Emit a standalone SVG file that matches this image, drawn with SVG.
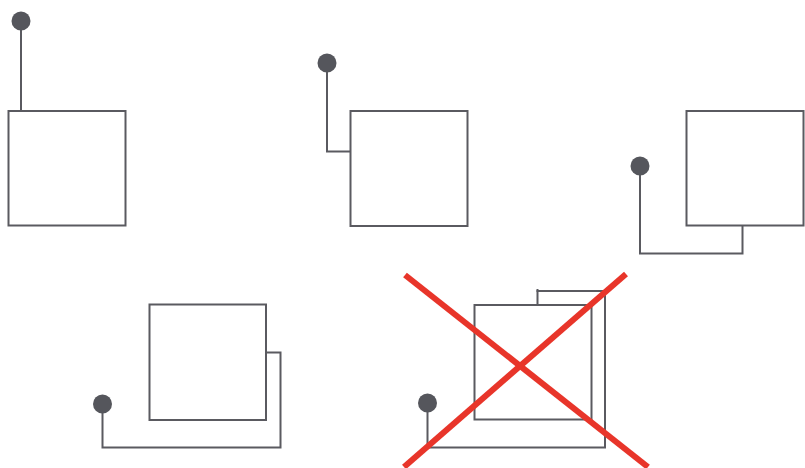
<svg xmlns="http://www.w3.org/2000/svg" width="805" height="468" viewBox="0 0 805 468">
<style>
.box{fill:#fff;stroke:#5a5a60;stroke-width:2}
.wire{fill:none;stroke:#5a5a60;stroke-width:2}
.dot{fill:#55565c}
.cross{stroke:#e8352a;stroke-width:6;stroke-linecap:butt}
</style>
<rect width="805" height="468" fill="#fff"/>
<g id="connectors">
<polyline class="wire" points="21,21 21,111"/>
<polyline class="wire" points="327,63 327,151.5 350,151.5"/>
<polyline class="wire" points="640,166 640,253.5 742.5,253.5 742.5,225"/>
<polyline class="wire" points="266,352.5 280.5,352.5 280.5,447.5 102.5,447.5 102.5,404"/>
<polyline class="wire" points="427.5,403 427.5,447.5 605,447.5 605,291 537.5,291 537.5,305"/>
<line class="wire" x1="537.5" y1="289" x2="537.5" y2="292"/>
</g>
<g id="node1">
<rect class="box" x="8.5" y="111" width="117" height="114.5"/>
<circle class="dot" cx="21" cy="21" r="9.5"/>
</g>
<g id="node2">
<rect class="box" x="350.5" y="111" width="117" height="115"/>
<circle class="dot" cx="327" cy="63" r="9.5"/>
</g>
<g id="node3">
<rect class="box" x="686.5" y="111" width="117" height="114.5"/>
<circle class="dot" cx="640" cy="166" r="9.5"/>
</g>
<g id="node4">
<rect class="box" x="149.5" y="304.5" width="116.5" height="115.5"/>
<circle class="dot" cx="102.5" cy="404" r="9.5"/>
</g>
<g id="node5">
<rect class="box" x="474.5" y="305" width="117" height="114.5" fill="none" style="fill:none"/>
<circle class="dot" cx="427.5" cy="403" r="9.5"/>
</g>
<g id="cross">
<line class="cross" x1="405" y1="275" x2="648" y2="467"/>
<line class="cross" x1="626" y1="274" x2="404" y2="467"/>
</g>
</svg>
